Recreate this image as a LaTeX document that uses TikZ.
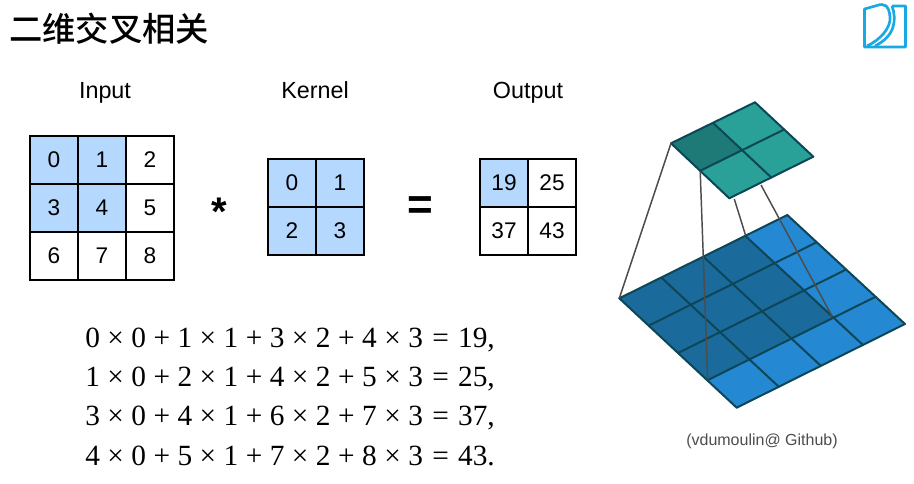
\documentclass[tikz,border=0pt]{standalone}
\usepackage{fontspec}
\setmainfont{Liberation Sans}
\newfontfamily\cjkf{Noto Sans CJK SC Medium}
\newfontfamily\eqf{Liberation Serif}
\usetikzlibrary{calc}
\definecolor{cellblue}{HTML}{B5D8FE}
\definecolor{isoteal}{HTML}{2AA198}
\definecolor{isotealdk}{HTML}{1E7A76}
\definecolor{isoblue}{HTML}{2588D3}
\definecolor{isobluedk}{HTML}{1A6A9B}
\definecolor{isoline}{HTML}{0D4656}
\definecolor{logoc}{HTML}{18A8E2}
\newcommand{\Tm}{\hspace{5.6pt}×\hspace{5.6pt}}
\newcommand{\Pl}{\hspace{5.6pt}+\hspace{5.6pt}}
\newcommand{\Eq}{\hspace{7pt}=\hspace{7pt}}
\tikzset{
  x=0.75pt,y=-0.75pt,
  cellbox/.style={draw=black,line width=1.5pt,minimum size=36pt,inner sep=0pt,anchor=center,font=\fontsize{17}{19}\selectfont},
  hot/.style={cellbox,fill=cellblue},
  cold/.style={cellbox,fill=white},
  head/.style={anchor=base,font=\fontsize{17.5}{20}\selectfont,text=black},
  eqline/.style={anchor=base west,inner sep=0pt,font=\eqf\fontsize{22}{24}\selectfont},
  isogrid/.style={draw=isoline,line width=1.5pt,line cap=round},
  link/.style={draw=black!70,line width=1.1pt},
}
\begin{document}
\begin{tikzpicture}
\useasboundingbox (0,0) rectangle (914,484);
\fill[white] (0,0) rectangle (914,484);
% title
\node[anchor=west,inner sep=0pt,font=\cjkf\fontsize{25}{28}\selectfont] (title) at (9,29) {二维交叉相关};
% logo
\draw[logoc,line width=2pt,line join=round] (877,5.5) -- (864.5,9) -- (864.5,47) -- (905.5,47) -- (905.5,6) -- (892,6);
\draw[logoc,line width=2pt] (877,5.5) .. controls (884,3) and (889,5) .. (890,17) .. controls (891,28) and (880,40) .. (867,46);
\draw[logoc,line width=2pt] (892,6) .. controls (897,20) and (895,36) .. (875,46);
% headings
\node[head] (hin) at (105,99) {Input};
\node[head] (hke) at (315,99) {Kernel};
\node[head] (hou) at (528,99) {Output};
% input grid
\node[hot]  (i0) at (54,160) {0};
\node[hot]  (i1) at (102,160) {1};
\node[cold] (i2) at (150,160) {2};
\node[hot]  (i3) at (54,208) {3};
\node[hot]  (i4) at (102,208) {4};
\node[cold] (i5) at (150,208) {5};
\node[cold] (i6) at (54,256) {6};
\node[cold] (i7) at (102,256) {7};
\node[cold] (i8) at (150,256) {8};
% kernel
\node[hot] (k0) at (292,183) {0};
\node[hot] (k1) at (340,183) {1};
\node[hot] (k2) at (292,231) {2};
\node[hot] (k3) at (340,231) {3};
% output
\node[hot]  (o0) at (504,183) {19};
\node[cold] (o1) at (552,183) {25};
\node[cold] (o2) at (504,231) {37};
\node[cold] (o3) at (552,231) {43};
% operators
\node[font=\bfseries\fontsize{30}{30}\selectfont,inner sep=0pt] (star) at (219,212) {*};
\node[font=\bfseries\fontsize{33}{33}\selectfont,inner sep=0pt] (eq) at (420,208) {=};
% equations
\node[eqline] (e1) at (85,348) {0\Tm0\Pl1\Tm1\Pl3\Tm2\Pl4\Tm3\Eq19,};
\node[eqline] (e2) at (85,387) {1\Tm0\Pl2\Tm1\Pl4\Tm2\Pl5\Tm3\Eq25,};
\node[eqline] (e3) at (85,426) {3\Tm0\Pl4\Tm1\Pl6\Tm2\Pl7\Tm3\Eq37,};
\node[eqline] (e4) at (85,465) {4\Tm0\Pl5\Tm1\Pl7\Tm2\Pl8\Tm3\Eq43.};
% caption
\node[font=\fontsize{12}{14}\selectfont,text=black!70] (cap) at (762,441) {(vdumoulin@ Github)};
% bottom isometric grid
\coordinate (BL) at (619.3,298.3);
\coordinate (BT) at (787.3,215);
\coordinate (BR) at (905,324);
\coordinate (BB) at (736.7,407.7);
\fill[isoblue] (BL)--(BT)--(BR)--(BB)--cycle;
\fill[isobluedk] (BL) -- ($(BL)!0.75!(BT)$) -- ($(BL)!0.75!(BT)+0.75*(BB)-0.75*(BL)$) -- ($(BL)!0.75!(BB)$) -- cycle;
\foreach \t in {0,0.25,0.5,0.75,1}{
  \draw[isogrid] ($(BL)!\t!(BT)$) -- ($(BB)!\t!(BR)$);
  \draw[isogrid] ($(BL)!\t!(BB)$) -- ($(BT)!\t!(BR)$);
}
% top isometric grid
\coordinate (TL) at (671,143.3);
\coordinate (TT) at (755,102.3);
\coordinate (TR) at (813.3,156.7);
\coordinate (TB) at (729.3,198.3);
\fill[isoteal] (TL)--(TT)--(TR)--(TB)--cycle;
\fill[isotealdk] (TL) -- ($(TL)!0.5!(TT)$) -- ($(TL)!0.5!(TR)$) -- ($(TL)!0.5!(TB)$) -- cycle;
\foreach \t in {0,0.5,1}{
  \draw[isogrid] ($(TL)!\t!(TT)$) -- ($(TB)!\t!(TR)$);
  \draw[isogrid] ($(TL)!\t!(TB)$) -- ($(TT)!\t!(TR)$);
}
% connectors
\coordinate (a1) at (TL);
\coordinate (b1) at (BL);
\coordinate (a2) at (700.2,171);
\coordinate (b2) at (707.7,379.6);
\coordinate (a3) at (734.3,199);
\coordinate (b3) at (745.7,235.7);
\coordinate (a4) at (761,185);
\coordinate (b4) at (832.3,316.7);
\draw[link] (a1) -- (b1);
\draw[link] (a2) -- (b2);
\draw[link] (a3) -- (b3);
\draw[link] (a4) -- (b4);
\end{tikzpicture}
\end{document}
